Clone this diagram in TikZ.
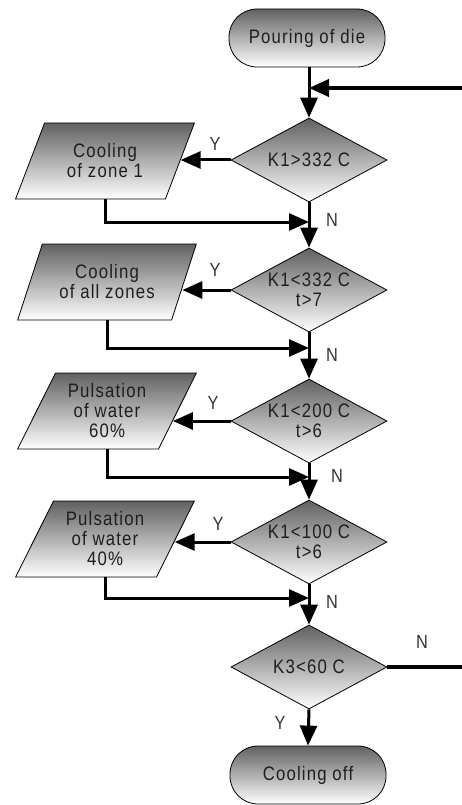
\documentclass[tikz,border=0pt]{standalone}
\usepackage{fontspec}
\setmainfont{Liberation Sans}[LetterSpace=6, FakeStretch=0.86]
\usetikzlibrary{shapes.geometric,arrows.meta,calc}
\begin{document}
\begin{tikzpicture}[x=1pt,y=1pt,
 shadedbox/.style={draw=black, line width=0.8pt, top color=black!62, bottom color=white, text=black!88, font=\fontsize{19.5}{20}\selectfont, align=center, inner sep=0pt},
 terminal/.style={shadedbox, rectangle, rounded corners=28pt, minimum width=156pt, minimum height=58pt},
 decision/.style={shadedbox, diamond, aspect=1.85, minimum width=156pt, minimum height=84pt},
 io/.style={shadedbox, trapezium, trapezium left angle=62, trapezium right angle=118, trapezium stretches=true, minimum width=179pt, minimum height=76pt},
 conn/.style={line width=3pt, -{Triangle[length=20pt,width=17pt]}},
 plain/.style={line width=3pt},
 lbl/.style={font=\fontsize{19}{19}\selectfont, text=black!80}]
\useasboundingbox (0,0) rectangle (462,-805);

\node[terminal] (start) at (307,-38) {Pouring of die};
\node[decision] (d1) at (309,-160) {K1>332 C};
\node[io] (p1) at (105,-161) {Cooling\\of zone 1};
\node[decision] (d2) at (309,-290) {K1<332 C\\t>7};
\node[io] (p2) at (107,-282) {Cooling\\of all zones};
\node[decision] (d3) at (309,-421) {K1<200 C\\t>6};
\node[io] (p3) at (107,-411) {Pulsation\\of water\\60\%};
\node[decision] (d4) at (309,-542) {K1<100 C\\t>6};
\node[io] (p4) at (105,-539) {Pulsation\\of water\\40\%};
\node[decision] (d5) at (309,-667) {K3<60 C};
\node[terminal] (end) at (308,-775) {Cooling off};

% feedback line entering at top
\coordinate (fbin) at (462,-88);
\coordinate (fbj) at (309,-88);
\draw[conn, line width=4pt] (fbin) -- (fbj);
\draw[conn] (start.south -| d1.north) -- (d1.north);

% main column
\draw[conn] (d1.south) -- (d2.north);
\draw[conn] (d2.south) -- (d3.north);
\draw[conn] (d3.south) -- (d4.north);
\draw[conn] (d4.south) -- (d5.north);
\draw[conn] (d5.south) -- (end.north);

% Y branches
\coordinate (t1) at ($(p1.top right corner)!0.49!(p1.bottom right corner)$);
\coordinate (t2) at ($(p2.top right corner)!0.58!(p2.bottom right corner)$);
\coordinate (t3) at ($(p3.top right corner)!0.63!(p3.bottom right corner)$);
\coordinate (t4) at ($(p4.top right corner)!0.53!(p4.bottom right corner)$);
\draw[conn] (d1.west) -- (d1.west -| t1);
\draw[conn] (d2.west) -- (d2.west -| t2);
\draw[conn] (d3.west) -- (d3.west -| t3);
\draw[conn] (d4.west) -- (d4.west -| t4);

% returns
\coordinate (j1) at (309,-222);
\coordinate (j2) at (309,-348);
\coordinate (j3) at (309,-477);
\coordinate (j4) at (309,-598);
\draw[conn] (p1.center |- p1.south) |- (j1);
\draw[conn] (p2.center |- p2.south) |- (j2);
\draw[conn] (p3.center |- p3.south) |- (j3);
\draw[conn] (p4.center |- p4.south) |- (j4);

% exit to the right
\coordinate (fbout) at (462,-667);
\draw[plain, line width=4pt] (d5.east) -- (fbout);

% labels
\node[lbl] (y1) at (215,-144) {Y};
\node[lbl] (y2) at (215,-270) {Y};
\node[lbl] (y3) at (213,-403) {Y};
\node[lbl] (y4) at (218,-524) {Y};
\node[lbl] (y5) at (280,-723) {Y};
\node[lbl] (n1) at (332,-220) {N};
\node[lbl] (n2) at (332,-355) {N};
\node[lbl] (n3) at (337,-476) {N};
\node[lbl] (n4) at (332,-602) {N};
\node[lbl] (n5) at (422,-642) {N};
\end{tikzpicture}
\end{document}
